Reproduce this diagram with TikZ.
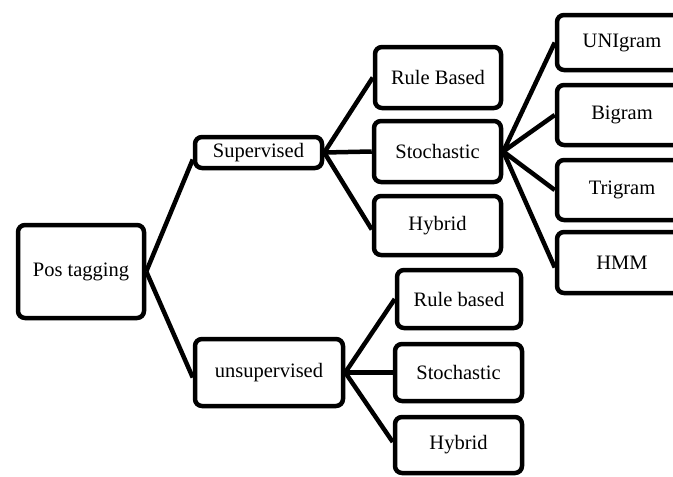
\documentclass[tikz,border=0pt]{standalone}
\usepackage{fontspec}
\setmainfont{Liberation Serif}
\begin{document}
\begin{tikzpicture}[x=1pt,y=-1pt,
  box/.style={draw=black, line width=4.5pt, rounded corners=7pt, fill=white,
    inner sep=0pt, align=center, font=\fontsize{20.5}{24}\selectfont},
  link/.style={draw=black, line width=4.5pt}]
\useasboundingbox (0,0) rectangle (673,477);
\clip (0,0) rectangle (673,477);

% root
\node[box, minimum width=126pt, minimum height=93pt] (pos) at (81,271.5) {Pos tagging};

% supervised branch
\node[box, minimum width=127pt, minimum height=31pt] (sup) at (258.5,152.5) {Supervised};
\node[box, minimum width=126pt, minimum height=61pt] (rb1) at (438,77.5) {Rule Based};
\node[box, minimum width=127pt, minimum height=61pt] (st1) at (437.5,151.5) {Stochastic};
\node[box, minimum width=127pt, minimum height=59pt] (hy1) at (437.5,225.5) {Hybrid};

% stochastic models
\node[box, minimum width=130pt, minimum height=55pt] (uni) at (622,42.5) {UNIgram};
\node[box, minimum width=130pt, minimum height=60pt] (big) at (622,115) {Bigram};
\node[box, minimum width=130pt, minimum height=60pt] (tri) at (622,190) {Trigram};
\node[box, minimum width=130pt, minimum height=61pt] (hmm) at (622,262.5) {HMM};

% unsupervised branch
\node[box, minimum width=148pt, minimum height=67pt] (uns) at (269,372.5) {unsupervised};
\node[box, minimum width=124pt, minimum height=58pt] (rb2) at (459,299) {Rule based};
\node[box, minimum width=127pt, minimum height=57pt] (st2) at (458.5,372.5) {Stochastic};
\node[box, minimum width=127pt, minimum height=56pt] (hy2) at (458.5,445) {Hybrid};

% connectors
\path[link] (pos.east) -- ([yshift=-7pt]sup.west);
\path[link] (pos.east) -- ([yshift=-5pt]uns.west);
\path[link] (sup.east) -- (rb1.west);
\path[link] (sup.east) -- (st1.west);
\path[link] (sup.east) -- ([yshift=-4pt]hy1.west);
\path[link] (st1.east) -- (uni.west);
\path[link] (st1.east) -- (big.west);
\path[link] (st1.east) -- (tri.west);
\path[link] (st1.east) -- ([yshift=-5pt]hmm.west);
\path[link] (uns.east) -- (rb2.west);
\path[link] (uns.east) -- (st2.west);
\path[link] (uns.east) -- ([yshift=3pt]hy2.west);
\end{tikzpicture}
\end{document}
